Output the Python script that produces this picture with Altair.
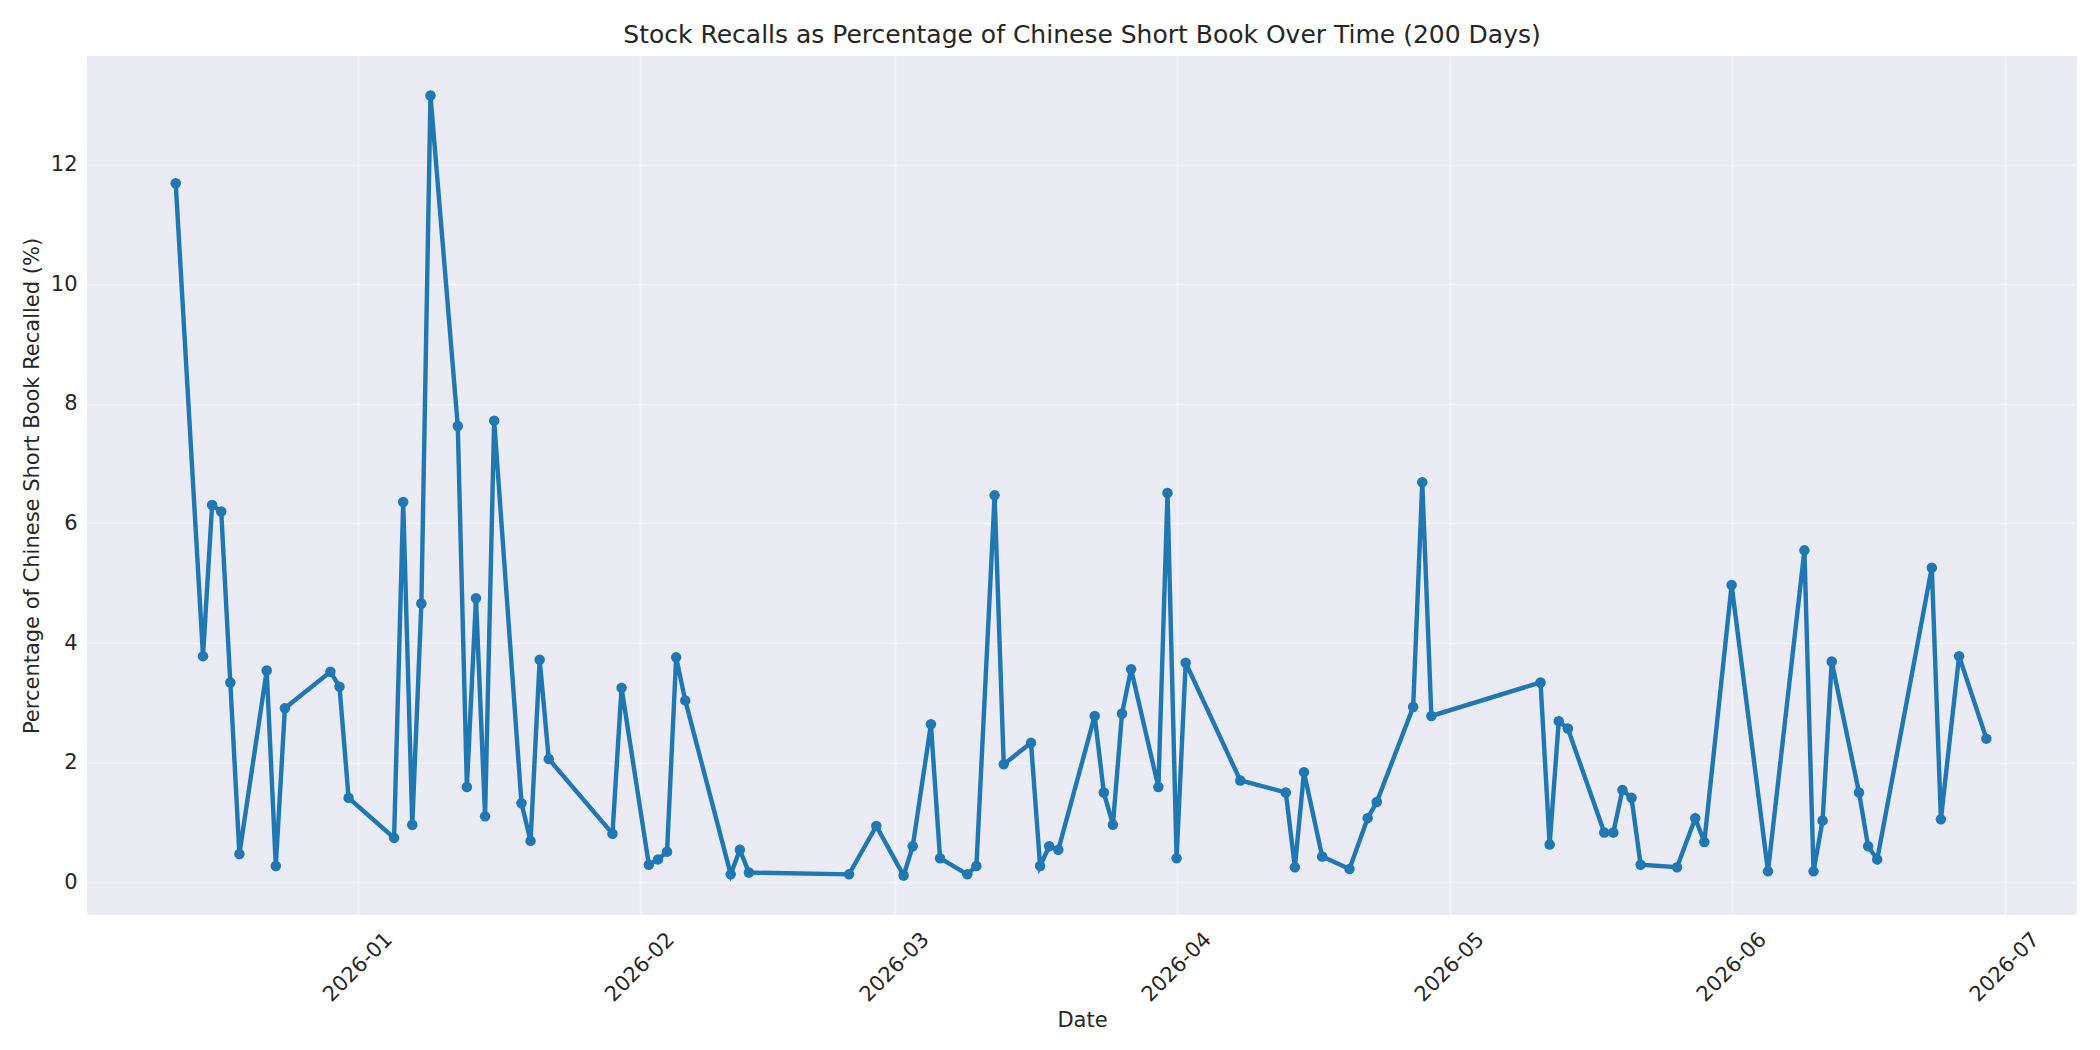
import altair as alt
import pandas as pd

dates = ["2025-12-12","2025-12-15","2025-12-16","2025-12-17","2025-12-18","2025-12-19","2025-12-22","2025-12-23","2025-12-24","2025-12-29","2025-12-30","2025-12-31",
         "2026-01-05","2026-01-06","2026-01-07","2026-01-08","2026-01-09","2026-01-12","2026-01-13","2026-01-14","2026-01-15","2026-01-16","2026-01-19","2026-01-20","2026-01-21","2026-01-22","2026-01-29","2026-01-30",
         "2026-02-02","2026-02-03","2026-02-04","2026-02-05","2026-02-06","2026-02-11","2026-02-12","2026-02-13","2026-02-24","2026-02-27",
         "2026-03-02","2026-03-03","2026-03-05","2026-03-06","2026-03-09","2026-03-10","2026-03-12","2026-03-13","2026-03-16","2026-03-17","2026-03-18","2026-03-19","2026-03-23","2026-03-24","2026-03-25","2026-03-26","2026-03-27","2026-03-30","2026-03-31",
         "2026-04-01","2026-04-02","2026-04-08","2026-04-13","2026-04-14","2026-04-15","2026-04-17","2026-04-20","2026-04-22","2026-04-23","2026-04-27","2026-04-28","2026-04-29",
         "2026-05-11","2026-05-12","2026-05-13","2026-05-14","2026-05-18","2026-05-19","2026-05-20","2026-05-21","2026-05-22","2026-05-26","2026-05-28","2026-05-29",
         "2026-06-01","2026-06-05","2026-06-09","2026-06-10","2026-06-11","2026-06-12","2026-06-15","2026-06-16","2026-06-17","2026-06-23","2026-06-24","2026-06-26","2026-06-29"]

recall_pct = [11.69,3.78,6.31,6.20,3.34,0.47,3.54,0.27,2.91,3.52,3.27,1.41,
              0.74,6.36,0.96,4.66,13.16,7.63,1.59,4.75,1.10,7.72,1.32,0.69,3.72,2.06,0.81,3.25,
              0.29,0.38,0.51,3.76,3.04,0.13,0.54,0.16,0.13,0.94,
              0.11,0.60,2.64,0.40,0.13,0.27,6.47,1.97,2.33,0.27,0.60,0.54,2.78,1.50,0.96,2.82,3.56,1.59,6.51,
              0.40,3.67,1.70,1.50,0.25,1.84,0.43,0.22,1.07,1.34,2.93,6.69,2.78,
              3.34,0.63,2.69,2.57,0.83,0.83,1.54,1.41,0.29,0.25,1.07,0.67,
              4.97,0.18,5.55,0.18,1.03,3.69,1.50,0.60,0.38,5.26,1.05,3.78,2.40]

tick_months = [1, 2, 3, 4, 5, 6, 7]

df = pd.DataFrame({"date": dates, "pct": recall_pct})

FONT = "DejaVu Sans"
BLUE = "#1f77b4"

x_enc = alt.X(
    "date:T",
    title="Date",
    scale=alt.Scale(
        type="utc",
        domain=[alt.DateTime(year=2025, month=12, date=2, hours=6, utc=True),
                alt.DateTime(year=2026, month=7, date=8, hours=23, utc=True)],
        nice=False,
    ),
    axis=alt.Axis(
        values=[alt.DateTime(year=2026, month=m, date=1, utc=True) for m in tick_months],
        labelExpr="utcFormat(datum.value, '%Y-%m')",
        labelAngle=-45,
        labelAlign="center",
        labelBaseline="middle",
        labelPadding=52,
        titlePadding=4,
    ),
)
y_enc = alt.Y(
    "pct:Q",
    title="Percentage of Chinese Short Book Recalled (%)",
    scale=alt.Scale(domain=[-0.55, 13.82], nice=False, zero=False),
    axis=alt.Axis(values=[0, 2, 4, 6, 8, 10, 12], labelPadding=10, titleX=-55, titleBaseline="middle"),
)

line = alt.Chart(df).mark_line(color=BLUE, strokeWidth=4.4).encode(x=x_enc, y=y_enc)
points = alt.Chart(df).mark_point(color=BLUE, filled=True, opacity=1, size=110).encode(x=x_enc, y=y_enc)

chart = (
    alt.layer(line, points)
    .properties(
        width=1990,
        height=859,
        autosize=alt.AutoSizeParams(type="none"),
        padding={"left": 79, "top": 48, "right": 15, "bottom": 120},
        title=alt.TitleParams(
            "Stock Recalls as Percentage of Chinese Short Book Over Time (200 Days)",
            fontSize=25, font=FONT, fontWeight="normal", color="#262626", anchor="middle", offset=8,
        ),
    )
    .configure(background="white")
    .configure_view(fill="#EAEAF2", stroke=None)
    .configure_axis(
        labelFont=FONT, titleFont=FONT, labelFontSize=21, titleFontSize=21,
        labelColor="#262626", titleColor="#262626", titleFontWeight="normal",
        domain=False, ticks=False, tickSize=0,
        grid=True, gridColor="white", gridOpacity=0.45, gridWidth=2,
    )
)

chart.save("out.html", embed_options={"renderer": "svg", "actions": False})
